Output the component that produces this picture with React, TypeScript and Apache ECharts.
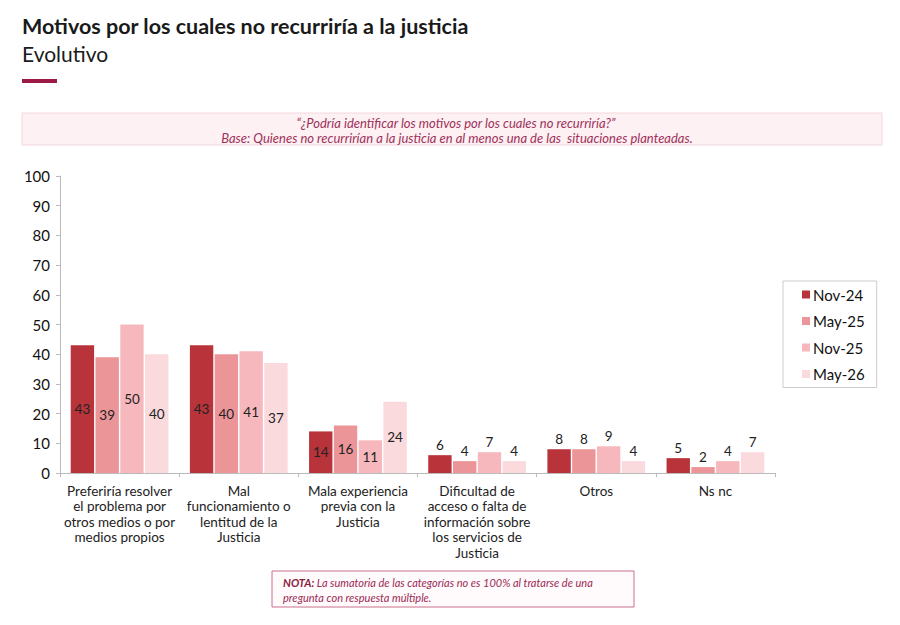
import React, { useEffect, useRef } from "react";
import * as echarts from "echarts";

const categories = [
  "Preferiría resolver\nel problema por\notros medios o por\nmedios propios",
  "Mal\nfuncionamiento o\nlentitud de la\nJusticia",
  "Mala experiencia\nprevia con la\nJusticia",
  "Dificultad de\nacceso o falta de\ninformación sobre\nlos servicios de\nJusticia",
  "Otros",
  "Ns nc",
];
const seriesNames = ["Nov-24", "May-25", "Nov-25", "May-26"];
const nov24 = [43, 43, 14, 6, 8, 5];
const may25 = [39, 40, 16, 4, 8, 2];
const nov25 = [50, 41, 11, 7, 9, 4];
const may26 = [40, 37, 24, 4, 4, 7];
const seriesValues = [nov24, may25, nov25, may26];
const insideLabelCategories = [0, 1, 2];
const colors = ["#b8343a", "#ec9599", "#f7b8bd", "#fadadd"];

const FONT = "Lato, 'Open Sans', sans-serif";

export default function App() {
  const ref = useRef<HTMLDivElement>(null);
  useEffect(() => {
    document.body.style.margin = "0";
    const chart = echarts.init(ref.current!, null, { renderer: "svg" });
    const option: any = {
      animation: false,
      backgroundColor: "#ffffff",
      textStyle: { fontFamily: FONT },
      grid: { left: 60, right: 125, top: 176, bottom: 152, containLabel: false },
      legend: {
        orient: "vertical",
        left: 783,
        top: 281,
        itemWidth: 8,
        itemHeight: 8,
        itemGap: 11.5,
        icon: "rect",
        borderColor: "#cccccc",
        borderWidth: 1,
        padding: [6, 12, 6, 19],
        textStyle: { fontSize: 15, color: "#111", fontFamily: FONT, padding: [0, 0, 0, -2] },
        data: seriesNames,
      },
      xAxis: {
        type: "category",
        data: categories,
        axisLine: { show: true, lineStyle: { color: "#bbbbbb" } },
        axisTick: { show: true, length: 4, lineStyle: { color: "#bbbbbb" } },
        axisLabel: {
          interval: 0,
          margin: 10,
          fontSize: 13.5,
          lineHeight: 15.5,
          color: "#222",
          fontFamily: FONT,
        },
      },
      yAxis: {
        type: "value",
        min: 0,
        max: 100,
        interval: 10,
        axisLine: { show: true, lineStyle: { color: "#bbbbbb" } },
        axisTick: { show: true, length: 4, lineStyle: { color: "#bbbbbb" } },
        splitLine: { show: false },
        axisLabel: { fontSize: 15, color: "#111", margin: 10, fontFamily: FONT },
      },
      series: seriesNames.map((name, si) => ({
        name,
        type: "bar",
        barCategoryGap: "18%",
        barGap: "6%",
        itemStyle: { color: colors[si] },
        label: {
          show: true,
          fontSize: 13.5,
          color: "#222",
          distance: 3,
          fontFamily: FONT,
        },
        data: seriesValues[si].map((v, ci) => ({
          value: v,
          label: { position: insideLabelCategories.includes(ci) ? "inside" : "top" },
        })),
      })),
      graphic: [
        {
          type: "text",
          x: 22,
          y: 26,
          style: {
            text: "Motivos por los cuales no recurriría a la justicia",
            font: `bold 21.5px ${FONT}`,
            fill: "#1a1a1a",
            align: "left",
            verticalAlign: "middle",
            textAlign: "left",
            textVerticalAlign: "middle",
          },
        },
        {
          type: "text",
          x: 22,
          y: 53,
          style: {
            text: "Evolutivo",
            font: `21px ${FONT}`,
            fill: "#1a1a1a",
            align: "left",
            verticalAlign: "middle",
            textAlign: "left",
            textVerticalAlign: "middle",
          },
        },
        {
          type: "rect",
          shape: { x: 22, y: 79, width: 35, height: 4 },
          style: { fill: "#9b1a48" },
        },
        {
          type: "rect",
          shape: { x: 22, y: 113, width: 860, height: 32 },
          style: { fill: "#fdf1f3", stroke: "#f3d6dc", lineWidth: 1 },
        },
        {
          type: "text",
          x: 456,
          y: 123,
          style: {
            text: "“¿Podría identificar los motivos por los cuales no recurriría?”",
            font: `italic 13px ${FONT}`,
            fill: "#a0305a",
            align: "center",
            verticalAlign: "middle",
            textAlign: "center",
            textVerticalAlign: "middle",
          },
        },
        {
          type: "text",
          x: 457,
          y: 138,
          style: {
            text: "Base: Quienes no recurrirían a la justicia en al menos una de las  situaciones planteadas.",
            font: `italic 13px ${FONT}`,
            fill: "#a0305a",
            align: "center",
            verticalAlign: "middle",
            textAlign: "center",
            textVerticalAlign: "middle",
          },
        },
        {
          type: "rect",
          shape: { x: 272, y: 571, width: 362, height: 36 },
          style: { fill: "#fffafb", stroke: "#c8708a", lineWidth: 1 },
        },
        {
          type: "text",
          x: 283,
          y: 590,
          style: {
            text: "{b|NOTA:} La sumatoria de las categorías no es 100% al tratarse de una\npregunta con respuesta múltiple.",
            font: `italic 11px ${FONT}`,
            fill: "#9b2a55",
            lineHeight: 15,
            align: "left",
            verticalAlign: "middle",
            textAlign: "left",
            textVerticalAlign: "middle",
            rich: {
              b: {
                fontWeight: "bold",
                fontStyle: "italic",
                fontSize: 11,
                fontFamily: FONT,
                fill: "#8a1a40",
                color: "#8a1a40",
                lineHeight: 15,
              },
            },
          },
        },
      ],
    };
    chart.setOption(option);
    return () => chart.dispose();
  }, []);
  return <div ref={ref} style={{ width: 900, height: 625 }} />;
}
